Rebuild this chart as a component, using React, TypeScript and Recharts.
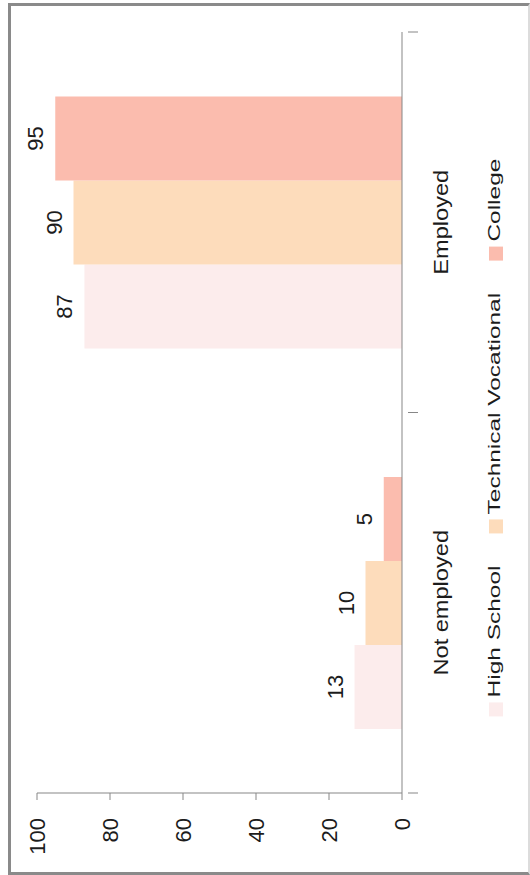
import React from 'react';
import { BarChart, Bar, XAxis, YAxis, Legend, LabelList } from 'recharts';

// employment outcome (%) by education track
const categories = ['Not employed', 'Employed'];
const highSchool = [13, 87];
const technicalVocational = [10, 90];
const college = [5, 95];
const valueTicks = [0, 20, 40, 60, 80, 100];

const seriesKeys = ['hs', 'tv', 'col'];
const seriesNames = ['High School', 'Technical Vocational', 'College'];
const seriesColors = ['#fcecec', '#fddcbb', '#fbbcae'];

const data = categories.map((name, i) => ({
  name,
  hs: highSchool[i],
  tv: technicalVocational[i],
  col: college[i],
}));

// chart is laid out as a normal column chart, then turned on its side
const CW = 875;
const CH = 530;
const LEGEND_H = 40;
// legend space is kept in the bottom margin (a rotated legend would be measured wrong)
const MARGIN = { top: 37, right: 32, bottom: 14 + LEGEND_H, left: 0 };
const YAXIS_W = 82;
const XAXIS_H = 74;
const FONT = '"Liberation Sans", Arial, Helvetica, sans-serif';
const INK = '#1c1c1c';
const AXIS = '#878787';

const bandWidth = (CW - MARGIN.left - YAXIS_W - MARGIN.right) / categories.length;

let ctx: CanvasRenderingContext2D | null = null;
function textWidth(s: string, size: number) {
  if (!ctx) ctx = document.createElement('canvas').getContext('2d');
  if (!ctx) return s.length * size * 0.55;
  ctx.font = `${size}px ${FONT}`;
  return ctx.measureText(s).width;
}

function CategoryTick(props: any) {
  const { x, y, payload, index } = props;
  const last = index === categories.length - 1;
  return (
    <g>
      <line x1={x - bandWidth / 2} x2={x - bandWidth / 2} y1={y} y2={y + 10} stroke={AXIS} />
      {last && <line x1={x + bandWidth / 2} x2={x + bandWidth / 2} y1={y} y2={y + 10} stroke={AXIS} />}
      <text
        transform={`translate(${x},${y + 26}) scale(1.18,1)`}
        textAnchor="middle"
        dy="0.71em"
        fontSize={20}
        fill={INK}
      >
        {payload.value}
      </text>
    </g>
  );
}

function SeriesLegend() {
  const sq = 14;
  const pad = 5;
  const gap = 32;
  const stretch = 1.53;
  const items = seriesNames.map((label, i) => ({
    label,
    color: seriesColors[i],
    w: textWidth(label, 16) * stretch,
  }));
  const total = items.reduce((s, it) => s + sq + pad + it.w, 0) + gap * (items.length - 1);
  let cursor = (CW - total) / 2;
  return (
    <svg width={CW} height={LEGEND_H} style={{ display: 'block' }}>
      {items.map((it) => {
        const x0 = cursor;
        cursor += sq + pad + it.w + gap;
        return (
          <g key={it.label}>
            <rect x={x0} y={13} width={sq} height={sq} fill={it.color} />
            <text transform={`translate(${x0 + sq + pad},23.5) scale(${stretch},1)`} fontSize={16} fill={INK}>
              {it.label}
            </text>
          </g>
        );
      })}
    </svg>
  );
}

export default function App() {
  return (
    <div style={{ position: 'absolute', left: 0, top: 0, width: 530, height: 875, background: '#fff', fontFamily: FONT }}>
      <div
        style={{
          position: 'absolute',
          left: 8,
          top: 3,
          width: 522,
          height: 872,
          boxSizing: 'border-box',
          borderTop: '3px solid #8a8a8a',
          borderLeft: '3px solid #8a8a8a',
          borderBottom: '3px solid #8a8a8a',
          borderRight: '2px solid #dcdcdc',
        }}
      />
      <div
        style={{
          position: 'absolute',
          left: 0,
          top: 0,
          width: CW,
          height: CH,
          transformOrigin: '0 0',
          transform: `translate(0px, ${CW}px) rotate(-90deg)`,
        }}
      >
        <BarChart width={CW} height={CH} data={data} margin={MARGIN} barGap={0} barCategoryGap={64}>
          <XAxis
            dataKey="name"
            height={XAXIS_H}
            interval={0}
            tickLine={false}
            tickMargin={0}
            tick={CategoryTick}
            stroke={AXIS}
          />
          <YAxis
            type="number"
            domain={[0, 100]}
            ticks={valueTicks}
            interval={0}
            width={YAXIS_W}
            tickSize={7}
            tickMargin={18}
            stroke={AXIS}
            tick={{ fontSize: 22, fill: INK }}
          />
          <Legend
            layout="vertical"
            align="center"
            verticalAlign="middle"
            width={CW}
            height={LEGEND_H}
            wrapperStyle={{ left: 0, top: CH - MARGIN.bottom }}
            content={SeriesLegend}
          />
          {seriesKeys.map((key, i) => (
            <Bar key={key} dataKey={key} name={seriesNames[i]} fill={seriesColors[i]} isAnimationActive={false}>
              <LabelList dataKey={key} position="top" offset={12} fontSize={22} fill={INK} />
            </Bar>
          ))}
        </BarChart>
      </div>
    </div>
  );
}
